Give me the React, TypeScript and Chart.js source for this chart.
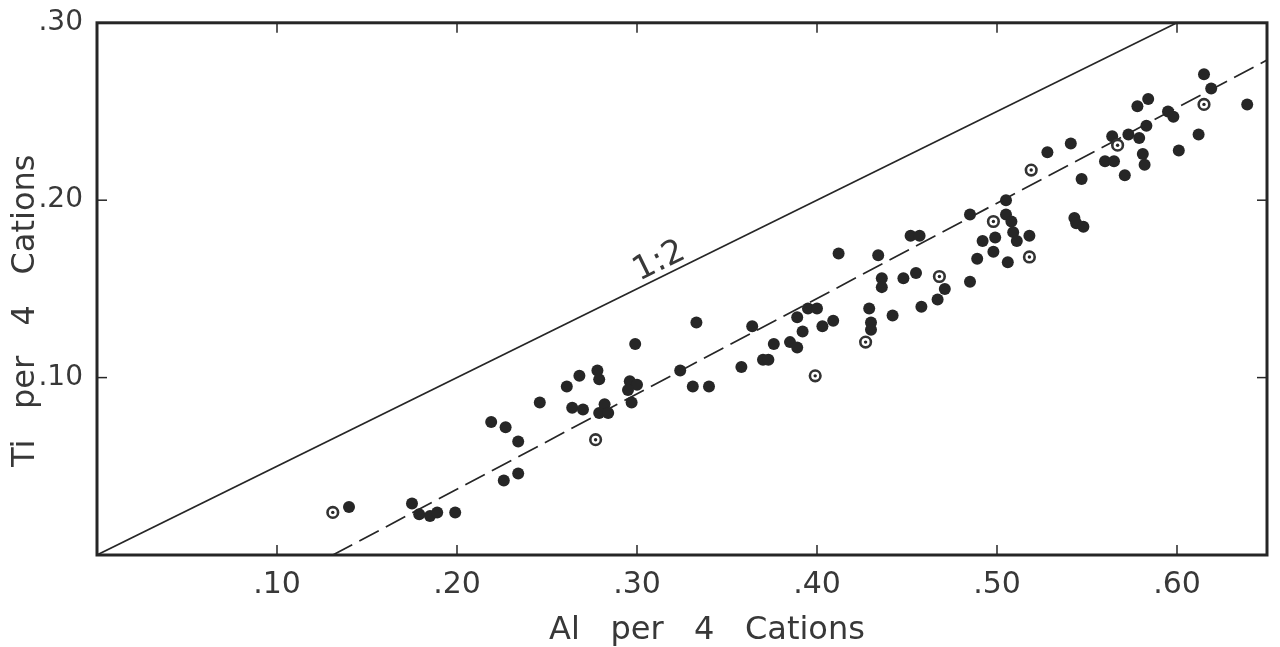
import React, { useEffect, useRef } from "react";
import { Chart, registerables } from "chart.js";

Chart.register(...registerables);

// ---- data ----
const filledAl = [
  0.140, 0.175, 0.179, 0.185, 0.189, 0.199, 0.219, 0.227, 0.226, 0.234,
  0.234, 0.246, 0.261, 0.264, 0.268, 0.270, 0.278, 0.279, 0.282, 0.279,
  0.284, 0.296, 0.300, 0.295, 0.297, 0.299, 0.324, 0.331, 0.333, 0.340,
  0.358, 0.364, 0.370, 0.373, 0.376, 0.385, 0.389, 0.389, 0.392, 0.395,
  0.400, 0.403, 0.409, 0.412, 0.429, 0.430, 0.430, 0.434, 0.436, 0.436,
  0.442, 0.448, 0.452, 0.455, 0.457, 0.458, 0.467, 0.471, 0.485, 0.485,
  0.489, 0.492, 0.498, 0.499, 0.505, 0.505, 0.506, 0.508, 0.509, 0.511,
  0.518, 0.528, 0.541, 0.543, 0.544, 0.547, 0.548, 0.560, 0.564, 0.565,
  0.571, 0.573, 0.578, 0.579, 0.581, 0.582, 0.583, 0.584, 0.595, 0.598,
  0.601, 0.612, 0.615, 0.619, 0.639,
];
const filledTi = [
  0.027, 0.029, 0.023, 0.022, 0.024, 0.024, 0.075, 0.072, 0.042, 0.046,
  0.064, 0.086, 0.095, 0.083, 0.101, 0.082, 0.104, 0.099, 0.085, 0.080,
  0.080, 0.098, 0.096, 0.093, 0.086, 0.119, 0.104, 0.095, 0.131, 0.095,
  0.106, 0.129, 0.110, 0.110, 0.119, 0.120, 0.117, 0.134, 0.126, 0.139,
  0.139, 0.129, 0.132, 0.170, 0.139, 0.131, 0.127, 0.169, 0.156, 0.151,
  0.135, 0.156, 0.180, 0.159, 0.180, 0.140, 0.144, 0.150, 0.154, 0.192,
  0.167, 0.177, 0.171, 0.179, 0.200, 0.192, 0.165, 0.188, 0.182, 0.177,
  0.180, 0.227, 0.232, 0.190, 0.187, 0.212, 0.185, 0.222, 0.236, 0.222,
  0.214, 0.237, 0.253, 0.235, 0.226, 0.220, 0.242, 0.257, 0.250, 0.247,
  0.228, 0.237, 0.271, 0.263, 0.254,
];
const openAl = [0.131, 0.277, 0.399, 0.427, 0.468, 0.498, 0.519, 0.518, 0.567, 0.615];
const openTi = [0.024, 0.065, 0.101, 0.120, 0.157, 0.188, 0.217, 0.168, 0.231, 0.254];

const ratioLineAl = [0, 0.6];
const ratioLineTi = [0, 0.3];
const fitLineAl = [0.131, 0.65];
const fitLineTi = [0, 0.279];

const xTicks = [0.1, 0.2, 0.3, 0.4, 0.5, 0.6];
const yTicks = [0.1, 0.2, 0.3];
const xTitle = "Al   per   4   Cations";
const yTitle = "Ti   per   4   Cations";
const ratioLabel = "1:2";

const INK = "#262626";
const TEXT = "#383838";
const FONT = '"DejaVu Sans", sans-serif';

const toPts = (xs: number[], ys: number[]) => xs.map((v, i) => ({ x: v, y: ys[i] }));
const fmt = (v: number) => v.toFixed(2).replace(/^0/, "");

const decor = {
  id: "decor",
  afterDatasetsDraw(chart: any) {
    const { ctx, chartArea: a, scales } = chart;
    const x = scales.x;
    const y = scales.y;
    ctx.save();
    ctx.strokeStyle = INK;
    ctx.lineWidth = 3;
    ctx.strokeRect(a.left, a.top, a.right - a.left, a.bottom - a.top);
    ctx.lineWidth = 1.5;
    const seg = (x1: number, y1: number, x2: number, y2: number) => {
      ctx.beginPath();
      ctx.moveTo(x1, y1);
      ctx.lineTo(x2, y2);
      ctx.stroke();
    };
    const tl = 10;
    xTicks.forEach((v) => {
      const px = x.getPixelForValue(v);
      seg(px, a.bottom, px, a.bottom - tl);
      seg(px, a.top, px, a.top + tl);
    });
    yTicks.forEach((v) => {
      const py = y.getPixelForValue(v);
      seg(a.left, py, a.left + tl, py);
      seg(a.right, py, a.right - tl, py);
    });

    ctx.fillStyle = TEXT;
    ctx.font = `32px ${FONT}`;
    ctx.textAlign = "center";
    ctx.textBaseline = "middle";
    ctx.fillText(xTitle, a.left + 610, a.bottom + 76);
    ctx.save();
    ctx.translate(a.left - 71, a.top + 288);
    ctx.rotate(-Math.PI / 2);
    ctx.fillText(yTitle, 0, 0);
    ctx.restore();

    // 1:2 label along the ratio line
    const p0x = x.getPixelForValue(ratioLineAl[0]);
    const p0y = y.getPixelForValue(ratioLineTi[0]);
    const p1x = x.getPixelForValue(ratioLineAl[1]);
    const p1y = y.getPixelForValue(ratioLineTi[1]);
    const ang = Math.atan2(p1y - p0y, p1x - p0x);
    const lx = x.getPixelForValue(0.316);
    const ly = y.getPixelForValue(0.158);
    ctx.save();
    ctx.translate(lx, ly);
    ctx.rotate(ang);
    ctx.font = `33px ${FONT}`;
    ctx.textBaseline = "alphabetic";
    ctx.fillText(ratioLabel, 0, -6);
    ctx.restore();
    ctx.restore();
  },
};

export default function App() {
  const ref = useRef<HTMLCanvasElement>(null);
  useEffect(() => {
    const prevMargin = document.body.style.margin;
    document.body.style.margin = "0";
    const chart = new Chart(ref.current as HTMLCanvasElement, {
      type: "scatter",
      data: {
        datasets: [
          {
            data: toPts(openAl, openTi),
            pointRadius: 1.7,
            pointBackgroundColor: INK,
            pointBorderWidth: 0,
          },
          {
            data: toPts(openAl, openTi),
            pointRadius: 5.3,
            pointBackgroundColor: "#ffffff",
            pointBorderColor: "#333333",
            pointBorderWidth: 2.6,
          },
          {
            data: toPts(filledAl, filledTi),
            pointRadius: 6,
            pointBackgroundColor: INK,
            pointBorderWidth: 0,
          },
          {
            data: toPts(ratioLineAl, ratioLineTi),
            showLine: true,
            pointRadius: 0,
            borderColor: INK,
            borderWidth: 1.6,
          },
          {
            data: toPts(fitLineAl, fitLineTi),
            showLine: true,
            pointRadius: 0,
            borderColor: INK,
            borderWidth: 1.7,
            borderDash: [22, 8],
          },
        ],
      },
      options: {
        animation: false,
        responsive: false,
        events: [],
        layout: { padding: { left: 0, top: 17, right: 13, bottom: 0 } },
        plugins: { legend: { display: false }, tooltip: { enabled: false } },
        scales: {
          x: {
            type: "linear",
            min: 0,
            max: 0.65,
            grid: { display: false },
            border: { display: false },
            afterBuildTicks: (s: any) => {
              s.ticks = xTicks.map((v) => ({ value: v }));
            },
            afterFit: (s: any) => {
              s.height = 92;
            },
            ticks: {
              padding: 4,
              color: TEXT,
              font: { family: FONT, size: 30 },
              callback: (v: any) => fmt(Number(v)),
            },
          },
          y: {
            type: "linear",
            min: 0,
            max: 0.3,
            grid: { display: false },
            border: { display: false },
            afterBuildTicks: (s: any) => {
              s.ticks = yTicks.map((v) => ({ value: v }));
            },
            afterFit: (s: any) => {
              s.width = 97;
            },
            ticks: {
              padding: 6,
              color: TEXT,
              font: { family: FONT, size: 28 },
              callback: (v: any) => fmt(Number(v)),
            },
          },
        },
      },
      plugins: [decor],
    } as any);
    return () => {
      chart.destroy();
      document.body.style.margin = prevMargin;
    };
  }, []);
  return (
    <div style={{ position: "fixed", left: 0, top: 0, width: 1280, height: 647, background: "#fff" }}>
      <canvas ref={ref} width={1280} height={647} style={{ display: "block" }} />
    </div>
  );
}
